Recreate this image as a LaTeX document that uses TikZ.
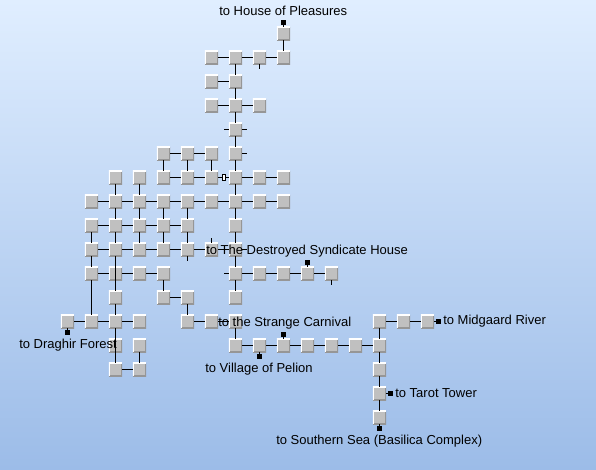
\documentclass[tikz,border=0pt]{standalone}
\usepackage{fontspec}
\setmainfont{Liberation Sans}
\usetikzlibrary{
  positioning
}
\definecolor{SkyTop}{RGB}{224, 238, 255}
\definecolor{SkyBottom}{RGB}{156, 188, 232}
\definecolor{RoomGray}{RGB}{192, 192, 192}
\definecolor{RoomEdge}{RGB}{150, 150, 150}
\tikzset{
    room/.style={
        rectangle, inner sep=0pt, minimum size=9.8pt, outer sep=0pt, fill=RoomGray,
        path picture={
            \draw[RoomEdge, line width=1.5pt] (path picture bounding box.south west) -- (path picture bounding box.south east) -- (path picture bounding box.north east);
            \draw[white, line width=1.5pt] (path picture bounding box.south west) -- (path picture bounding box.north west) -- (path picture bounding box.north east);
        }
    },
    link/.style={draw=black, line width=0.85pt},
    door/.style={rectangle, fill=black, inner sep=0pt, minimum size=3.9pt},
    gate/.style={rectangle, draw=black, fill=white, line width=0.6pt, inner sep=0pt, minimum width=2.4pt, minimum height=5pt},
    place/.style={inner sep=0pt, anchor=west, text=black, font=\fontsize{9.75}{12}\selectfont}
}
\begin{document}
\begin{tikzpicture}[x=0.75pt, y=-0.75pt]
    \shade[top color=SkyTop, bottom color=SkyBottom] (0,0) rectangle (596,469);
    \useasboundingbox (0,0) rectangle (596,469);

    % rooms, row by row
    \foreach \r/\cols in {
        0/{9}, 1/{6,7,8,9}, 2/{6,7}, 3/{6,7,8}, 4/{7}, 5/{4,5,6,7},
        6/{2,3,4,5,6,7,8,9}, 7/{1,2,3,4,5,6,7,8,9}, 8/{1,2,3,4,5,7},
        9/{1,2,3,4,5,6,7}, 10/{1,2,3,4,7,8,9,10,11}, 11/{2,4,5,7},
        12/{0,1,2,3,5,6,7,13,14,15}, 13/{2,3,7,8,9,10,11,12,13},
        14/{2,3,13}, 15/{13}, 16/{13}%
    } {
        \foreach \c in \cols {
            \node[room] (r\c-\r) at ({67.5+24*\c},{33.5+24*\r}) {};
        }
    }

    % links along a row
    \foreach \a/\b in {
        6-1/7-1, 7-1/8-1, 8-1/9-1, 6-2/7-2, 6-3/7-3, 7-3/8-3,
        4-5/5-5, 5-5/6-5, 4-6/5-6, 5-6/6-6, 6-6/7-6, 7-6/8-6, 8-6/9-6,
        1-7/2-7, 2-7/3-7, 3-7/4-7, 4-7/5-7, 5-7/6-7, 6-7/7-7, 7-7/8-7, 8-7/9-7,
        1-8/2-8, 2-8/3-8, 3-8/4-8, 4-8/5-8,
        1-9/2-9, 2-9/3-9, 3-9/4-9, 4-9/5-9, 5-9/6-9, 6-9/7-9,
        1-10/2-10, 2-10/3-10, 3-10/4-10, 7-10/8-10, 8-10/9-10, 9-10/10-10, 10-10/11-10,
        4-11/5-11, 0-12/1-12, 1-12/2-12, 2-12/3-12, 5-12/6-12, 6-12/7-12,
        13-12/14-12, 14-12/15-12,
        7-13/8-13, 8-13/9-13, 9-13/10-13, 10-13/11-13, 11-13/12-13, 12-13/13-13,
        2-14/3-14%
    } {
        \draw[link] (r\a) -- (r\b);
    }

    % links along a column
    \foreach \a/\b in {
        9-0/9-1, 7-1/7-2, 7-2/7-3, 7-3/7-4, 7-4/7-5, 7-5/7-6, 7-6/7-7, 7-7/7-8, 7-8/7-9,
        7-9/7-10, 7-10/7-11, 7-12/7-13,
        4-5/4-6, 5-5/5-6, 6-5/6-6, 2-6/2-7, 3-6/3-7,
        2-7/2-8, 3-7/3-8, 4-7/4-8, 5-7/5-8,
        1-8/1-9, 2-8/2-9, 3-8/3-9, 4-8/4-9, 5-8/5-9,
        1-9/1-10, 2-9/2-11, 1-10/1-12, 4-10/4-11, 5-11/5-12,
        2-11/2-12, 2-12/2-14, 3-13/3-14,
        13-12/13-13, 13-13/13-14, 13-14/13-15, 13-15/13-16%
    } {
        \draw[link] (r\a) -- (r\b);
    }

    % loose ends
    \foreach \a/\side in {
        8-1/below, 7-4/left, 7-4/right, 7-5/right, 5-9/below, 6-9/above,
        7-9/right, 7-10/left, 11-10/below%
    } {
        \coordinate[\side=3.9pt of r\a] (t\a-\side);
        \draw[link] (r\a) -- (t\a-\side);
    }

    \node[gate] (gateWest) at (223.5,177.5) {};

    % exits
    \node[door, above=1.4pt of r9-0] (dHouse) {};
    \node[door, above=1.4pt of r10-10] (dSyndicate) {};
    \node[door, right=1.4pt of r15-12] (dRiver) {};
    \node[door, below=1.4pt of r0-12] (dForest) {};
    \node[door, above=1.4pt of r9-13] (dCarnival) {};
    \node[door, below=1.4pt of r8-13] (dPelion) {};
    \node[door, right=1.4pt of r13-15] (dTarot) {};
    \node[door, below=1.4pt of r13-16] (dSea) {};
    \foreach \a/\b in {
        9-0/dHouse, 10-10/dSyndicate, 15-12/dRiver, 0-12/dForest,
        9-13/dCarnival, 8-13/dPelion, 13-15/dTarot, 13-16/dSea%
    } {
        \draw[link] (r\a) -- (\b);
    }

    % labels
    \node[place] (lHouse) at (219,10.5) {to House of Pleasures};
    \node[place] (lSyndicate) at (206,251.5) {to The Destroyed Syndicate House};
    \node[place] (lCarnival) at (218,323.5) {to the Strange Carnival};
    \node[place] (lRiver) at (443,321.5) {to Midgaard River};
    \node[place] (lForest) at (19,345.5) {to Draghir Forest};
    \node[place] (lPelion) at (205,369.5) {to Village of Pelion};
    \node[place] (lTarot) at (395,393.5) {to Tarot Tower};
    \node[place] (lSea) at (276,441.5) {to Southern Sea (Basilica Complex)};
\end{tikzpicture}
\end{document}
